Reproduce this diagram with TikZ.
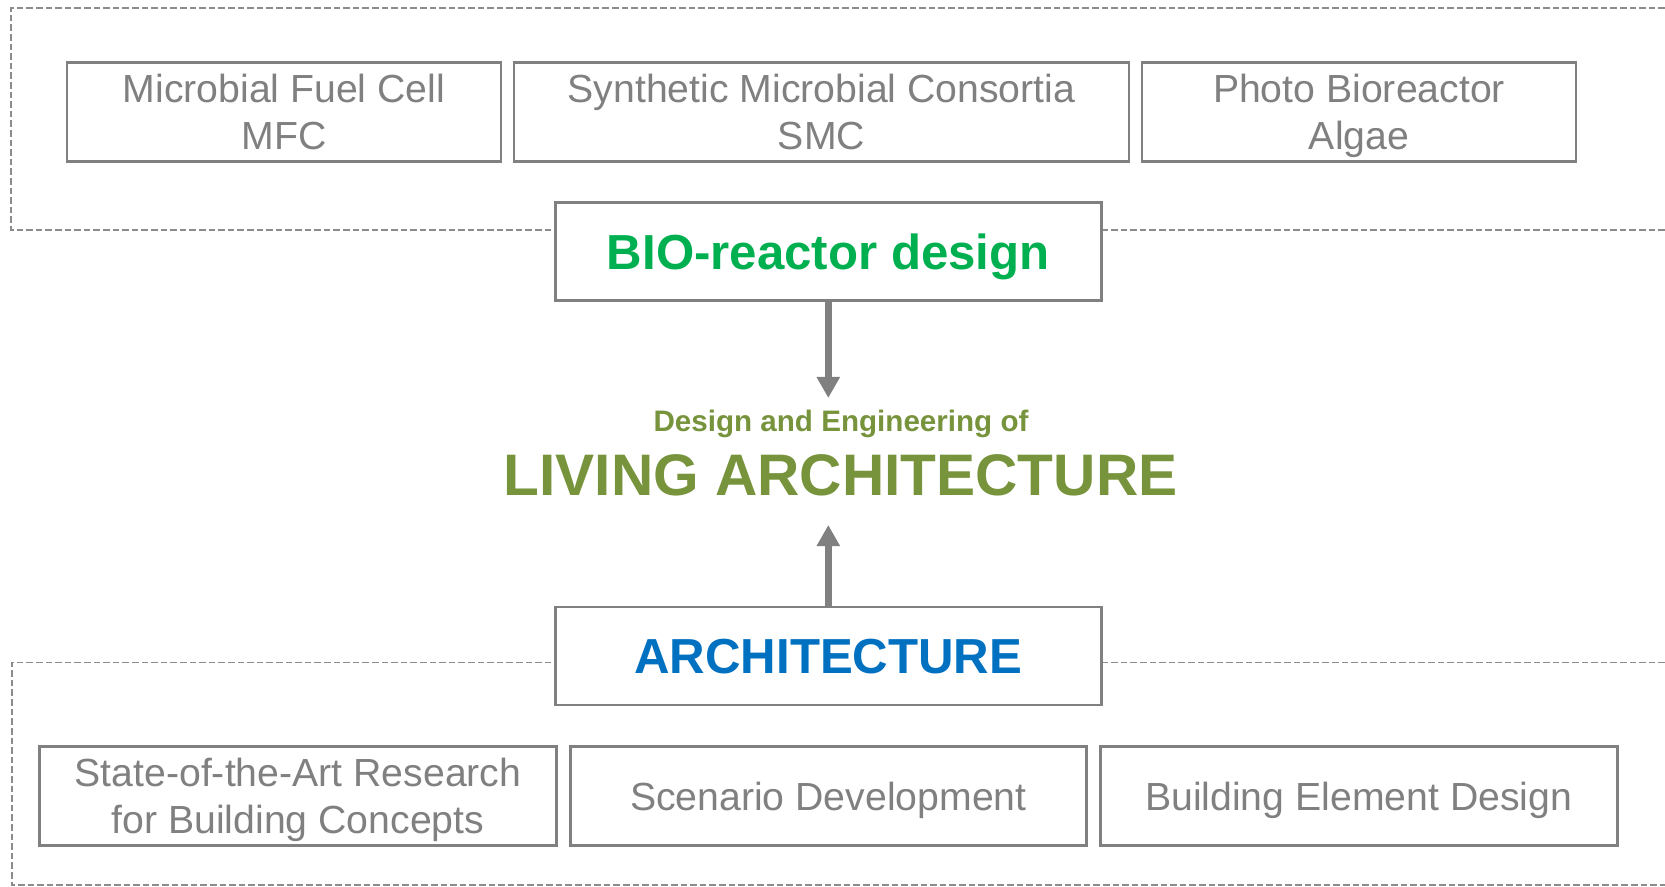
\documentclass[tikz,border=0pt]{standalone}
\usepackage{fontspec}
\setsansfont{Liberation Sans}
\usepackage{xcolor}
\usetikzlibrary{arrows.meta, positioning}

\definecolor{boxgray}{RGB}{128,128,128}
\definecolor{framegray}{RGB}{140,140,140}
\definecolor{biogreen}{RGB}{0,176,80}
\definecolor{livegreen}{RGB}{119,147,60}
\definecolor{archblue}{RGB}{0,112,192}

\begin{document}
\begin{tikzpicture}[
    x=0.5pt, y=-0.5pt,
    font=\sffamily,
    % light gray topic boxes
    topicbox/.style={rectangle, draw=boxgray, line width=1.4pt, fill=white, text=boxgray, align=center, inner sep=0pt, text depth=0pt, minimum height=49.5pt, font=\sffamily\fontsize{19.6}{23.5}\selectfont},
    % the two main headings
    headbox/.style={rectangle, draw=boxgray, line width=1.4pt, fill=white, minimum width=273pt, minimum height=49pt, inner sep=0pt, text depth=0pt, font=\sffamily\bfseries\fontsize{24.6}{29}\selectfont},
    frame/.style={draw=framegray, line width=0.85pt, dash pattern=on 3.3pt off 1.5pt},
    arrow/.style={-{Triangle[length=10.5pt, width=11pt]}, line width=3.25pt, color=boxgray}
]
\useasboundingbox (0,0) rectangle (1665,887);

% =========================================================
% DASHED FRAMES (open to the right)
% =========================================================
\draw[frame] (1665,8) -| (11,230) -- (1665,230);
\draw[frame] (1665,662.5) -| (12,885) -- (1665,885);

% =========================================================
% TOP ROW: BIO-REACTORS
% =========================================================
\node[topicbox, minimum width=217pt] (mfc) at (284,112) {Microbial Fuel Cell\\MFC};
\node[topicbox, minimum width=307.5pt, right=5.1pt of mfc] (smc) {Synthetic Microbial Consortia\\SMC};
\node[topicbox, minimum width=217pt, right=5.1pt of smc] (pbr) {Photo Bioreactor\\Algae};

\node[headbox, text=biogreen] (bio) at (828.3,251.7) {BIO-reactor design};

% =========================================================
% CENTRE TITLE
% =========================================================
\node[anchor=base, inner sep=0pt, text=livegreen, font=\sffamily\bfseries\fontsize{14.8}{17}\selectfont] (subtitle) at (841,431) {Design and Engineering of};
\node[anchor=base, inner sep=0pt, text=livegreen, font=\sffamily\bfseries\fontsize{29.3}{34}\selectfont] (title) at (840.5,495) {LIVING ARCHITECTURE};

% =========================================================
% BOTTOM ROW: ARCHITECTURE
% =========================================================
\node[headbox, text=archblue] (arch) at (828.3,656) {ARCHITECTURE};

\node[topicbox, minimum width=258pt] (scen) at (828.3,796) {Scenario Development};
\node[topicbox, minimum width=258.5pt, left=5.5pt of scen] (sota) {State-of-the-Art Research\\for Building Concepts};
\node[topicbox, minimum width=258.5pt, right=5.5pt of scen] (bed) {Building Element Design};

% arrows towards the title
\coordinate (downtip) at (828.3,398);
\coordinate (uptip) at (828.3,525);
\draw[arrow] (bio.south) -- (downtip);
\draw[arrow] (arch.north) -- (uptip);

\end{tikzpicture}
\end{document}
